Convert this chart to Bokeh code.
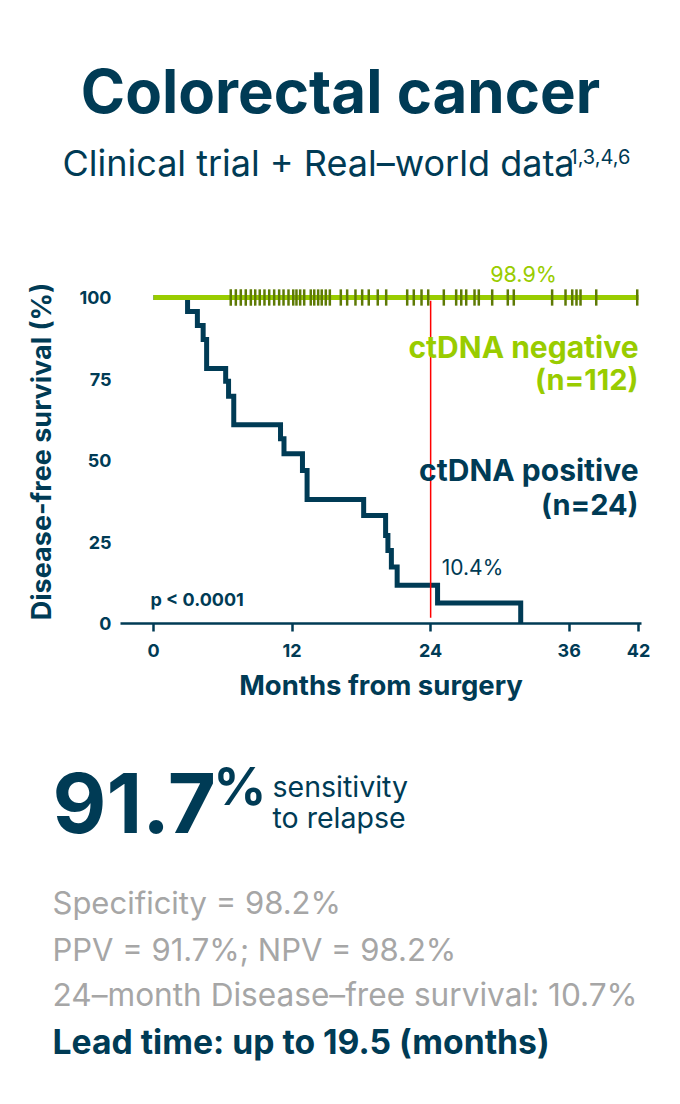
import math
from bokeh.plotting import figure
from bokeh.models import Range1d, FixedTicker, Label
from bokeh.embed import file_html
from bokeh.resources import INLINE

# ---- data ----
pos_months = [0, 2.95, 3.8, 4.3, 4.6, 6.25, 6.5, 6.95, 11.0, 11.3, 12.9, 13.3, 18.2, 20.1, 20.3, 20.6, 21.1, 24.6, 31.8]
pos_surv = [100, 95.7, 91.4, 87.1, 78.2, 74.3, 69.7, 61.0, 56.7, 52.1, 46.9, 38.0, 33.1, 27.0, 22.4, 17.3, 11.7, 6.3, 0]
neg_months = [0, 42]
neg_surv = [100, 100]
neg_censor = [6.69, 7.13, 7.56, 7.99, 8.43, 8.81, 9.20, 9.61, 10.02, 10.45, 10.88, 11.26, 11.69, 12.10,
              12.38, 12.70, 13.05, 13.62, 13.92, 14.26, 14.57, 14.92, 15.27, 16.22, 16.77, 17.49, 18.07,
              18.64, 19.42, 20.15, 21.97, 22.54, 23.21, 23.79, 25.14, 26.21, 26.65, 27.08, 27.80, 28.17,
              29.33, 30.68, 31.20, 34.52, 35.68, 36.26, 36.63, 36.98, 38.34, 41.89]
x_ticks = [0, 12, 24, 36, 42]
y_ticks = [0, 25, 50, 75, 100]
landmark_month = 24
neg_label_value = "98.9%"
pos_label_value = "10.4%"

DARK = "#003b55"
GREEN = "#99cc00"
OLIVE = "#5e7a05"
GRAY = "#a6a6a6"
FONT = "Inter"

W, H = 680, 1104
# pixel geometry of the chart (canvas px, top-down)
X0, PXM = 153.0, 485.0 / 42.0   # month 0 position, px per month
Y0, PYP = 623.0, 326.0 / 100.0  # 0% position, px per percent
AX_L, AX_R = 120, 641           # extent of the x axis line
BASE_K = 0.37                   # baseline correction (fraction of font size)


def dx(cx):
    return (cx - X0) / PXM


def dy(cy):
    return (Y0 - cy) / PYP


p = figure(width=W, height=H, output_backend="svg", toolbar_location=None,
           x_range=Range1d(dx(0), dx(W)), y_range=Range1d(dy(H), dy(0)), min_border=0)
p.outline_line_color = None
p.grid.grid_line_color = None

xa = p.xaxis[0]
xa.fixed_location = 0
xa.bounds = (dx(AX_L), dx(AX_R))
xa.ticker = FixedTicker(ticks=x_ticks)
xa.axis_line_color = DARK
xa.axis_line_width = 2.5
xa.major_tick_line_color = DARK
xa.major_tick_line_width = 2.5
xa.major_tick_out = 8
xa.major_tick_in = 0
xa.minor_tick_line_color = None
xa.major_label_text_font = FONT
xa.major_label_text_font_style = "bold"
xa.major_label_text_font_size = "18px"
xa.major_label_text_color = DARK
xa.major_label_standoff = 12
xa.axis_label = "Months from surgery"
xa.axis_label_text_font = FONT
xa.axis_label_text_font_style = "bold"
xa.axis_label_text_font_size = "27.5px"
xa.axis_label_text_color = DARK
xa.axis_label_standoff = 8

ya = p.yaxis[0]
ya.fixed_location = dx(AX_L)
ya.bounds = (0, 100)
ya.ticker = FixedTicker(ticks=y_ticks)
ya.axis_line_color = None
ya.major_tick_line_color = None
ya.minor_tick_line_color = None
ya.major_label_text_font = FONT
ya.major_label_text_font_style = "bold"
ya.major_label_text_font_size = "18px"
ya.major_label_text_color = DARK
ya.major_label_standoff = 3

p.step(pos_months, pos_surv, mode="after", line_color=DARK, line_width=5, line_join="miter")
p.line([landmark_month, landmark_month], [1.8, 99], line_color="#ff0000", line_width=1.5)
p.line(neg_months, neg_surv, line_color=GREEN, line_width=5)
p.segment(x0=neg_censor, y0=[100 - 2.5] * len(neg_censor), x1=neg_censor, y1=[100 + 2.5] * len(neg_censor),
          line_color=OLIVE, line_width=2.5)


def lab(text, cx, cy, size, color=DARK, bold=False, align="left"):
    p.add_layout(Label(x=dx(cx), y=dy(cy - BASE_K * size), text=text, text_font=FONT,
                       text_font_size=f"{size}px", text_font_style="bold" if bold else "normal",
                       text_color=color, text_align=align, text_baseline="alphabetic"))


# y axis title (rotated)
p.add_layout(Label(x=dx(41), y=dy(451), text="Disease-free survival (%)", text_font=FONT,
                   text_font_size="27px", text_font_style="bold", text_color=DARK,
                   text_align="center", text_baseline="middle", angle=math.pi / 2))

# header
lab("Colorectal cancer", 340, 113, 60, DARK, bold=True, align="center")
lab("Clinical trial + Real\u2013world data", 62, 176, 36, DARK)
lab("1,3,4,6", 569, 163, 20, DARK)

# chart annotations
lab(neg_label_value, 523, 281, 21.5, GREEN, align="center")
lab("ctDNA negative", 638, 358, 30, GREEN, bold=True, align="right")
lab("(n=112)", 638, 390, 29, GREEN, bold=True, align="right")
lab("ctDNA positive", 638, 481, 30, DARK, bold=True, align="right")
lab("(n=24)", 638, 515, 29, DARK, bold=True, align="right")
lab(pos_label_value, 472, 575, 21, DARK, align="center")
lab("p < 0.0001", 150, 606, 18, DARK, bold=True)

# bottom block
lab("91.7", 52, 833, 83, DARK, bold=True)
lab("%", 213, 805, 52, DARK, bold=True)
lab("sensitivity", 272, 797, 28.5, DARK)
lab("to relapse", 272, 828, 28.5, DARK)
lab("Specificity = 98.2%", 52, 913, 31, GRAY)
lab("PPV = 91.7%; NPV = 98.2%", 52, 960, 31, GRAY)
lab("24\u2013month Disease\u2013free survival: 10.7%", 52, 1006, 31.6, GRAY)
lab("Lead time: up to 19.5 (months)", 52, 1053, 33.7, DARK, bold=True)

open("out.html", "w").write(file_html(p, INLINE))
